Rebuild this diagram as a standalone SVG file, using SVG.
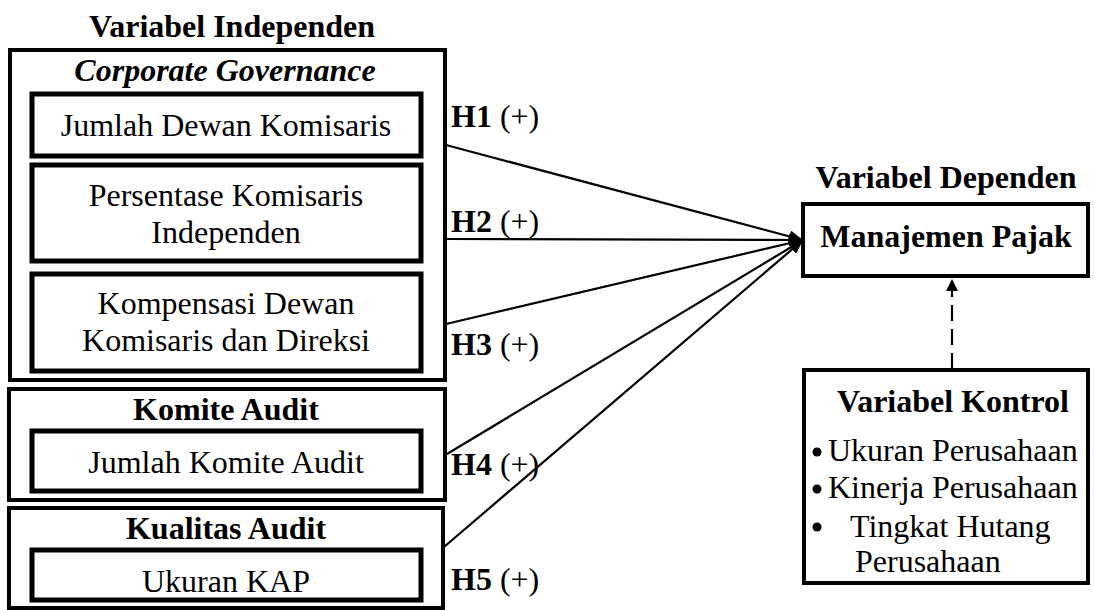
<svg xmlns="http://www.w3.org/2000/svg" width="1094" height="610" viewBox="0 0 1094 610">
<defs>
<style>
text{font-family:"Liberation Serif","Times New Roman",serif;font-size:32px;fill:#000}
.b{font-weight:bold}
.bi{font-weight:bold;font-style:italic}
.m{text-anchor:middle}
.outer{fill:#fff;stroke:#000;stroke-width:4}
.inner{fill:#fff;stroke:#000;stroke-width:5}
.ln{stroke:#000;stroke-width:2.2;fill:none}
</style>
<marker id="ah" viewBox="0 0 14 12" refX="14" refY="6" markerWidth="14" markerHeight="12" markerUnits="userSpaceOnUse" orient="auto">
<path d="M0,0 L14,6 L0,12 Z" fill="#000"/>
</marker>
<marker id="ah2" viewBox="0 0 12 12" refX="6" refY="0" markerWidth="12" markerHeight="12" markerUnits="userSpaceOnUse" orient="0">
<path d="M0,12 L6,0 L12,12 Z" fill="#000"/>
</marker>
</defs>
<text class="b m" x="232" y="37">Variabel Independen</text>
<g id="corporate-governance">
<rect class="outer" x="10" y="50" width="435" height="330"/>
<text class="bi m" x="225" y="81">Corporate Governance</text>
</g>
<g id="jumlah-dewan">
<rect class="inner" x="32" y="94" width="389" height="62"/>
<text class="m" x="226" y="136">Jumlah Dewan Komisaris</text>
</g>
<g id="persentase">
<rect class="inner" x="32" y="165" width="389" height="96"/>
<text class="m" x="226" y="206">Persentase Komisaris</text>
<text class="m" x="226" y="243">Independen</text>
</g>
<g id="kompensasi">
<rect class="inner" x="32" y="274" width="389" height="97"/>
<text class="m" x="226" y="314">Kompensasi Dewan</text>
<text class="m" x="226" y="351">Komisaris dan Direksi</text>
</g>
<g id="komite-audit">
<rect class="outer" x="9" y="389" width="436" height="111"/>
<text class="b m" x="226" y="420">Komite Audit</text>
</g>
<g id="jumlah-komite">
<rect class="inner" x="32" y="431" width="389" height="60"/>
<text class="m" x="226" y="473">Jumlah Komite Audit</text>
</g>
<g id="kualitas-audit">
<rect class="outer" x="9" y="508" width="434" height="100"/>
<text class="b m" x="226" y="539">Kualitas Audit</text>
</g>
<g id="ukuran-kap">
<rect class="inner" x="32" y="550" width="389" height="50"/>
<text class="m" x="226" y="592">Ukuran KAP</text>
</g>
<g id="connectors">
<line class="ln" x1="446" y1="145" x2="803" y2="240" marker-end="url(#ah)"/>
<line class="ln" x1="446" y1="239" x2="803" y2="240" marker-end="url(#ah)"/>
<line class="ln" x1="446" y1="324" x2="803" y2="240" marker-end="url(#ah)"/>
<line class="ln" x1="447" y1="454" x2="803" y2="240" marker-end="url(#ah)"/>
<line class="ln" x1="444" y1="547" x2="803" y2="240" marker-end="url(#ah)"/>
<line class="ln" x1="952" y1="369" x2="952" y2="279" stroke-dasharray="16,8" marker-end="url(#ah2)"/>
</g>
<g id="labels">
<text x="451" y="127"><tspan class="b">H1</tspan> (+)</text>
<text x="451" y="232"><tspan class="b">H2</tspan> (+)</text>
<text x="451" y="355"><tspan class="b">H3</tspan> (+)</text>
<text x="451" y="475"><tspan class="b">H4</tspan> (+)</text>
<text x="451" y="590"><tspan class="b">H5</tspan> (+)</text>
</g>
<g id="manajemen-pajak">
<text class="b m" x="946" y="188">Variabel Dependen</text>
<rect class="outer" x="803" y="204" width="285" height="72"/>
<text class="b m" x="946" y="247">Manajemen Pajak</text>
</g>
<g id="variabel-kontrol">
<rect class="outer" x="804" y="370" width="284" height="213"/>
<text class="b m" x="953" y="412">Variabel Kontrol</text>
<circle cx="817" cy="452" r="4.5"/>
<text x="828" y="461">Ukuran Perusahaan</text>
<circle cx="817" cy="489" r="4.5"/>
<text x="828" y="498">Kinerja Perusahaan</text>
<circle cx="817" cy="527" r="4.5"/>
<text x="850" y="537">Tingkat Hutang</text>
<text x="855" y="572">Perusahaan</text>
</g>
</svg>
